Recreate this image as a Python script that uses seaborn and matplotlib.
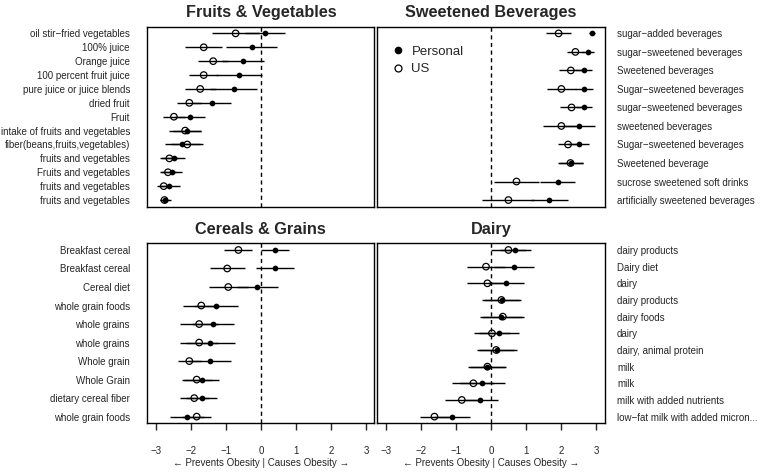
import matplotlib
matplotlib.use("Agg")
import matplotlib.pyplot as plt
from matplotlib.lines import Line2D
import pandas as pd
import seaborn as sns

# Fruits & Vegetables (top to bottom)
fv_labels = ["oil stir\u2212fried vegetables", "100% juice", "Orange juice",
             "100 percent fruit juice", "pure juice or juice blends", "dried fruit",
             "Fruit", "intake of fruits and vegetables", "fiber(beans,fruits,vegetables)",
             "fruits and vegetables", "Fruits and vegetables", "fruits and vegetables",
             "fruits and vegetables"]
fv_personal = [0.13, -0.26, -0.51, -0.63, -0.78, -1.40, -2.03, -2.10, -2.24, -2.49, -2.54, -2.61, -2.72]
fv_personal_err = [0.57, 0.73, 0.61, 0.65, 0.66, 0.56, 0.45, 0.40, 0.50, 0.32, 0.30, 0.30, 0.15]
fv_us = [-0.72, -1.63, -1.36, -1.63, -1.73, -2.04, -2.48, -2.16, -2.10, -2.61, -2.65, -2.77, -2.75]
fv_us_err = [0.67, 0.52, 0.43, 0.42, 0.44, 0.34, 0.32, 0.46, 0.45, 0.26, 0.24, 0.19, 0.12]

# Sweetened Beverages
sb_labels = ["sugar\u2212added beverages", "sugar\u2212sweetened beverages", "Sweetened beverages",
             "Sugar\u2212sweetened beverages", "sugar\u2212sweetened beverages", "sweetened beverages",
             "Sugar\u2212sweetened beverages", "Sweetened beverage", "sucrose sweetened soft drinks",
             "artificially sweetened beverages"]
sb_personal = [2.88, 2.76, 2.65, 2.65, 2.65, 2.50, 2.50, 2.28, 1.91, 1.67]
sb_personal_err = [0.08, 0.17, 0.24, 0.25, 0.23, 0.47, 0.30, 0.35, 0.50, 0.53]
sb_us = [1.93, 2.41, 2.28, 2.01, 2.30, 2.01, 2.20, 2.27, 0.73, 0.50]
sb_us_err = [0.35, 0.25, 0.35, 0.41, 0.33, 0.51, 0.30, 0.37, 0.63, 0.74]

# Cereals & Grains
cg_labels = ["Breakfast cereal", "Breakfast cereal", "Cereal diet", "whole grain foods",
             "whole grains", "whole grains", "Whole grain", "Whole Grain",
             "dietary cereal fiber", "whole grain foods"]
cg_personal = [0.40, 0.40, -0.10, -1.27, -1.36, -1.44, -1.44, -1.68, -1.69, -2.10]
cg_personal_err = [0.40, 0.55, 0.58, 0.63, 0.60, 0.70, 0.60, 0.50, 0.44, 0.48]
cg_us = [-0.64, -0.96, -0.93, -1.70, -1.76, -1.76, -2.04, -1.83, -1.90, -1.83]
cg_us_err = [0.40, 0.50, 0.56, 0.52, 0.54, 0.55, 0.33, 0.43, 0.41, 0.41]

# Dairy
da_labels = ["dairy products", "Dairy diet", "dairy", "dairy products", "dairy foods", "dairy",
             "dairy, animal protein", "milk", "milk", "milk with added nutrients",
             "low\u2212fat milk with added micron..."]
da_personal = [0.70, 0.66, 0.43, 0.31, 0.29, 0.24, 0.17, -0.11, -0.24, -0.30, -1.11]
da_personal_err = [0.44, 0.57, 0.51, 0.55, 0.61, 0.57, 0.58, 0.54, 0.63, 0.50, 0.50]
da_us = [0.50, -0.14, -0.10, 0.30, 0.34, 0.03, 0.15, -0.10, -0.50, -0.83, -1.61]
da_us_err = [0.50, 0.54, 0.57, 0.50, 0.60, 0.51, 0.50, 0.50, 0.60, 0.47, 0.41]

sns.set_style("white")
plt.rcParams['font.family'] = ['Liberation Sans', 'DejaVu Sans']
plt.rcParams['axes.edgecolor'] = 'black'
plt.rcParams['axes.linewidth'] = 1.0

LABEL_SIZE = 7


def draw_panel(ax, title, labels, personal, p_err, us, u_err, side, show_x):
    n = len(labels)
    df = pd.DataFrame({'label': labels, 'row': range(n),
                       'Personal': personal, 'p_err': p_err,
                       'US': us, 'u_err': u_err})

    ax.hlines(df['row'], df['US'] - df['u_err'], df['US'] + df['u_err'],
              color='black', lw=1.0, zorder=2)
    ax.hlines(df['row'], df['Personal'] - df['p_err'], df['Personal'] + df['p_err'],
              color='black', lw=1.0, zorder=2)
    ax.axvline(0, color='black', ls=(0, (3, 2.5)), lw=1.0, zorder=1)

    sns.scatterplot(data=df, x='US', y='row', ax=ax, marker='o', s=22,
                    facecolor='none', edgecolor='black', linewidth=0.9,
                    legend=False, zorder=3)
    sns.scatterplot(data=df, x='Personal', y='row', ax=ax, color='black', s=17,
                    linewidth=0, legend=False, zorder=4)

    ax.set_xlim(-3.24, 3.24)
    ax.set_ylim((n - 1) * 1.04, -(n - 1) * 0.04)
    ax.set_yticks(range(n))
    ax.set_yticklabels(labels, fontsize=LABEL_SIZE)
    ax.set_ylabel('')
    if side == 'right':
        ax.yaxis.tick_right()
        ax.tick_params(axis='y', length=0, pad=9)
    else:
        ax.tick_params(axis='y', length=0, pad=12.5)

    if show_x:
        ax.set_xticks(range(-3, 4))
        ax.tick_params(axis='x', length=5, width=1, pad=11.5, direction='out',
                       labelsize=LABEL_SIZE, bottom=True)
        ax.set_xlabel('\u2190 Prevents Obesity | Causes Obesity \u2192',
                      fontsize=LABEL_SIZE, labelpad=1.5)
    else:
        ax.set_xticks([])
        ax.set_xlabel('')

    for s in ax.spines.values():
        s.set_visible(True)
        s.set_color('black')
        s.set_linewidth(1.0)
    ax.set_title(title, fontsize=11.7, fontweight='bold', pad=7)


fig = plt.figure(figsize=(7.65, 4.73), dpi=100)
w, h = 0.297, 0.3805
ax_fv = fig.add_axes([0.1925, 0.563, w, h])
ax_sb = fig.add_axes([0.4932, 0.563, w, h])
ax_cg = fig.add_axes([0.1925, 0.1051, w, h])
ax_da = fig.add_axes([0.4932, 0.1051, w, h])

draw_panel(ax_fv, 'Fruits & Vegetables', fv_labels, fv_personal, fv_personal_err,
           fv_us, fv_us_err, 'left', False)
draw_panel(ax_sb, 'Sweetened Beverages', sb_labels, sb_personal, sb_personal_err,
           sb_us, sb_us_err, 'right', False)
draw_panel(ax_cg, 'Cereals & Grains', cg_labels, cg_personal, cg_personal_err,
           cg_us, cg_us_err, 'left', True)
draw_panel(ax_da, 'Dairy', da_labels, da_personal, da_personal_err,
           da_us, da_us_err, 'right', True)

handles = [Line2D([], [], marker='o', color='black', ls='', markersize=4.5),
           Line2D([], [], marker='o', markerfacecolor='none', markeredgecolor='black',
                  ls='', markersize=5, markeredgewidth=0.9)]
ax_sb.legend(handles, ['Personal', 'US'], loc='upper left', bbox_to_anchor=(0.069, 0.895),
             borderaxespad=0, borderpad=0, frameon=False, fontsize=9.5,
             handlelength=0.8, handletextpad=0.6, labelspacing=0.4)

fig.savefig('out.png', dpi=100)
